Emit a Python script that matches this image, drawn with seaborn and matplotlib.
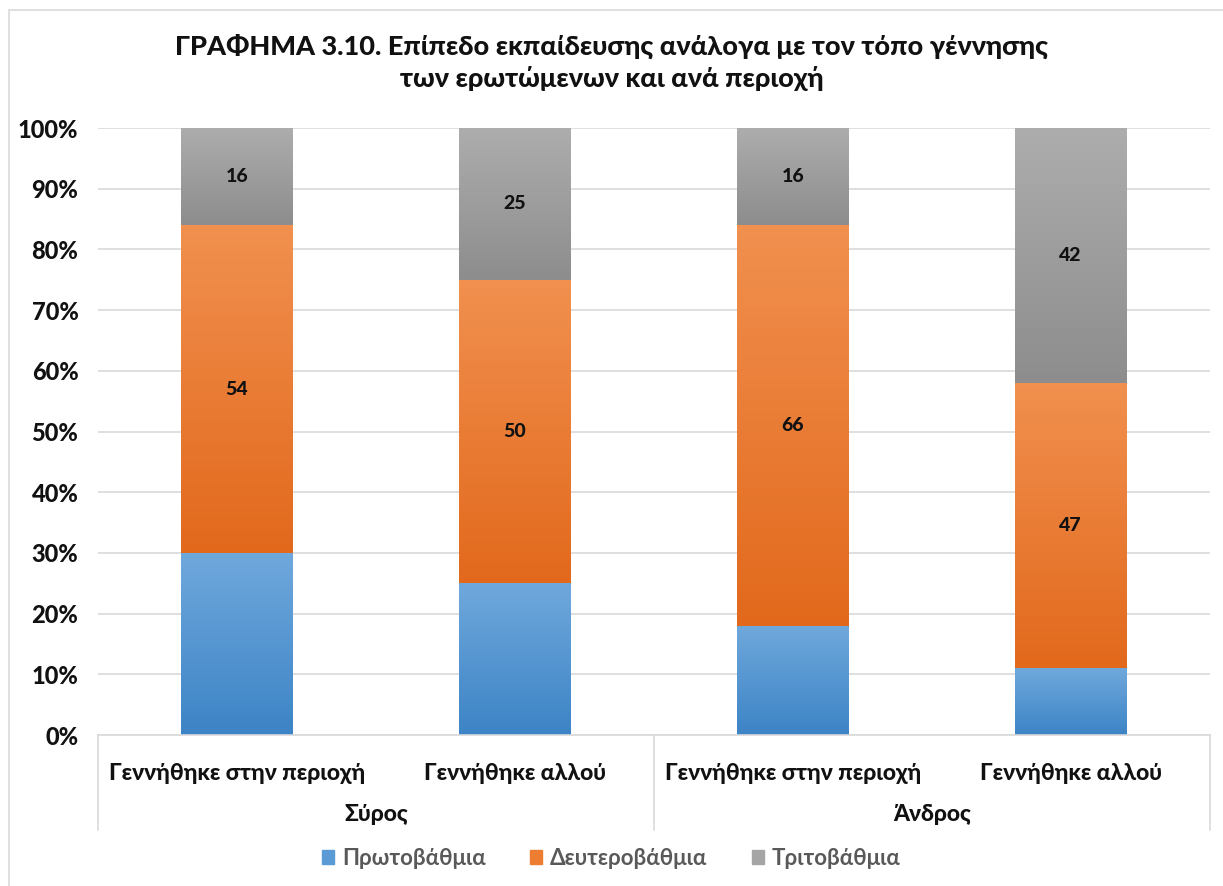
import numpy as np
import pandas as pd
import matplotlib
matplotlib.use("Agg")
import matplotlib.pyplot as plt
import matplotlib.patches as mpatches
from matplotlib.colors import LinearSegmentedColormap
import seaborn as sns

# --- data ---
regions = ["Σύρος", "Σύρος", "Άνδρος", "Άνδρος"]
birthplace = ["Γεννήθηκε στην περιοχή", "Γεννήθηκε αλλού",
              "Γεννήθηκε στην περιοχή", "Γεννήθηκε αλλού"]
primary = [30, 25, 18, 11]
secondary = [54, 50, 66, 47]
tertiary = [16, 25, 16, 42]
series_names = ["Πρωτοβάθμια", "Δευτεροβάθμια", "Τριτοβάθμια"]
title = "ΓΡΑΦΗΜΑ 3.10. Επίπεδο εκπαίδευσης ανάλογα με τον τόπο γέννησης\nτων ερωτώμενων και ανά περιοχή"

keys = [f"{r}|{b}" for r, b in zip(regions, birthplace)]
df = pd.DataFrame({"key": keys, "p": primary, "s": secondary, "t": tertiary})

sns.set_style("white")
plt.rcParams['font.family'] = ['Lato', 'DejaVu Sans']

# colour pairs (top, bottom) to mimic the office gradient fill
grads = [("#6fa8dc", "#3d84c6"), ("#f1904f", "#e2691c"), ("#adadad", "#8d8d8d")]
solid = ["#5b9bd5", "#ed7d31", "#a5a5a5"]
W = 900  # heavy weight, falls back to bold if missing

fig = plt.figure(figsize=(12.23, 8.86), dpi=100)
ax = fig.add_axes([0.080, 0.1704, 0.909, 0.6851])

bottoms = np.zeros(len(df))
cols = ["p", "s", "t"]
for k, col in enumerate(cols):
    n_before = len(ax.patches)
    sns.barplot(data=df, x="key", y=col, order=keys, color=solid[k],
                width=0.40, ax=ax, saturation=1, errorbar=None)
    new = ax.patches[n_before:]
    for i, p in enumerate(new):
        p.set_y(bottoms[i])
        p.set_linewidth(0)
        # gradient on top of the bar segment
        x0, w = p.get_x(), p.get_width()
        y0, h = p.get_y(), p.get_height()
        cmap = LinearSegmentedColormap.from_list("g", [grads[k][1], grads[k][0]])
        grad = np.linspace(0, 1, 100).reshape(-1, 1)
        im = ax.imshow(grad, extent=[x0, x0 + w, y0, y0 + h], origin="lower",
                       cmap=cmap, aspect="auto", zorder=2)
        im.set_clip_path(p)
        if col != "p":
            ax.text(x0 + w / 2, y0 + h / 2, f"{df[col].iloc[i]}", ha="center",
                    va="center", fontsize=14, fontweight=W, color="#111111",
                    zorder=3)
    bottoms += df[col].values

ax.set_xlim(-0.5, 3.5)
ax.set_ylim(0, 100)
ax.set_yticks(np.arange(0, 101, 10))
ax.set_yticklabels([f"{v}%" for v in range(0, 101, 10)], fontsize=17,
                   fontweight=W, color="#111111")
ax.yaxis.grid(True, color="#d9d9d9", linewidth=1.2)
ax.set_axisbelow(True)
ax.tick_params(axis="both", length=0, pad=10)
ax.tick_params(axis="y", pad=14)
ax.tick_params(axis="x", pad=20)
ax.set_xticks(range(4))
ax.set_xticklabels(birthplace, fontsize=16.5, fontweight=W, color="#111111")
ax.set_xlabel("")
ax.set_ylabel("")
for side in ["left", "right", "top"]:
    ax.spines[side].set_visible(False)
ax.spines["bottom"].set_color("#d9d9d9")
ax.spines["bottom"].set_linewidth(1.2)

# group labels and separators
trans = matplotlib.transforms.blended_transform_factory(ax.transData, ax.transAxes)
for gx, name in [(0.5, "Σύρος"), (2.5, "Άνδρος")]:
    ax.text(gx, -0.131, name, transform=trans, ha="center", va="center",
            fontsize=16.5, fontweight=W, color="#111111")
for sx in [-0.5, 1.5, 3.5]:
    ax.plot([sx, sx], [0, -0.157], transform=trans, color="#d9d9d9",
            linewidth=1.2, clip_on=False)

fig.suptitle(title, x=0.5, y=0.962, fontsize=19.5, fontweight=W,
             color="#111111", linespacing=1.35)

handles = [mpatches.Patch(color=c, label=n) for c, n in zip(solid, series_names)]
fig.legend(handles=handles, loc="center", bbox_to_anchor=(0.5, 0.031), ncol=3,
           frameon=False, prop={"size": 16, "weight": "bold"},
           handlelength=0.55, handleheight=0.55, handletextpad=0.35,
           columnspacing=2.0, labelcolor="#595959")

fig.patches.append(mpatches.Rectangle((0.007, -0.01), 1.0, 0.999,
                                      transform=fig.transFigure, fill=False,
                                      edgecolor="#d9d9d9", linewidth=1.2))

fig.savefig("out.png", dpi=100, facecolor="white")
